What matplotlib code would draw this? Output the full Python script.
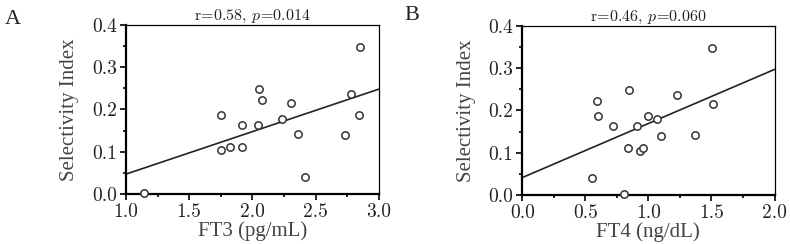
import numpy as np
import matplotlib
matplotlib.use("Agg")
import matplotlib.pyplot as plt
from matplotlib.ticker import MultipleLocator

# panel A: FT3 vs selectivity index
ft3 = [1.146, 1.75, 1.825, 1.75, 1.918, 1.918, 2.048, 2.056, 2.074, 2.233,
       2.305, 2.361, 2.416, 2.732, 2.777, 2.843, 2.851]
si_a = [0.002, 0.103, 0.110, 0.187, 0.112, 0.162, 0.162, 0.248, 0.222, 0.178,
        0.215, 0.143, 0.041, 0.140, 0.237, 0.187, 0.348]
fit_a_x = [1.0, 3.0]
fit_a_y = [0.047, 0.248]

# panel B: FT4 vs selectivity index
ft4 = [0.557, 0.589, 0.597, 0.716, 0.808, 0.835, 0.848, 0.909, 0.930, 0.959,
       1.001, 1.067, 1.104, 1.226, 1.368, 1.501, 1.511]
si_b = [0.041, 0.223, 0.187, 0.162, 0.002, 0.112, 0.248, 0.162, 0.104, 0.110,
        0.187, 0.179, 0.140, 0.237, 0.143, 0.347, 0.215]
fit_b_x = [0.0, 2.0]
fit_b_y = [0.041, 0.297]

plt.rcParams["font.family"] = "cmr10"
plt.rcParams["axes.formatter.use_mathtext"] = True
plt.rcParams["mathtext.fontset"] = "cm"

label_font = "Liberation Serif"

fig = plt.figure(figsize=(7.9, 2.44), dpi=100)

panels = [
    ([0.1595, 0.205, 0.320, 0.693], ft3, si_a, fit_a_x, fit_a_y, (1.0, 3.0),
     "FT3 (pg/mL)", r"$\mathrm{r\!=\!0.58,}\,p\mathrm{\!=\!0.014}$", "A", (0.006, 0.92)),
    ([0.6610, 0.201, 0.3194, 0.693], ft4, si_b, fit_b_x, fit_b_y, (0.0, 2.0),
     "FT4 (ng/dL)", r"$\mathrm{r\!=\!0.46,}\,p\mathrm{\!=\!0.060}$", "B", (0.512, 0.935)),
]

for rect, xs, ys, fx, fy, xlim, xlabel, title, letter, lpos in panels:
    ax = fig.add_axes(rect)
    ax.plot(fx, fy, color="#222222", lw=1.2, zorder=2)
    ax.scatter(xs, ys, s=28, facecolors="white", edgecolors="#333333",
               linewidths=1.1, zorder=3, clip_on=False)
    ax.set_xlim(*xlim)
    ax.set_ylim(0, 0.4)
    ax.xaxis.set_major_locator(MultipleLocator(0.5))
    ax.xaxis.set_minor_locator(MultipleLocator(0.25))
    ax.yaxis.set_major_locator(MultipleLocator(0.1))
    ax.yaxis.set_minor_locator(MultipleLocator(0.05))
    ax.xaxis.set_major_formatter(lambda v, p: f"{v:.1f}")
    ax.yaxis.set_major_formatter(lambda v, p: f"{v:.1f}")
    ax.tick_params(which="major", direction="out", top=False, right=False,
                   width=1.2, length=4.5, labelsize=14, pad=2, labelcolor="#222222")
    ax.tick_params(which="minor", direction="out", top=False, right=False,
                   width=1.2, length=2.5)
    for s in ["left", "bottom"]:
        ax.spines[s].set_linewidth(1.6)
    for s in ["top", "right"]:
        ax.spines[s].set_linewidth(0.9)
    ax.set_xlabel(xlabel, fontsize=15, color="#444444", labelpad=0, family=label_font)
    ax.set_ylabel("Selectivity Index", fontsize=15, color="#444444", labelpad=9,
                  family=label_font)
    ax.set_title(title, fontsize=11.5, pad=3, color="#222222")
    fig.text(lpos[0], lpos[1], letter, fontsize=16, ha="left", va="center",
             family=label_font, color="#222222")

fig.savefig("out.png", dpi=100)
